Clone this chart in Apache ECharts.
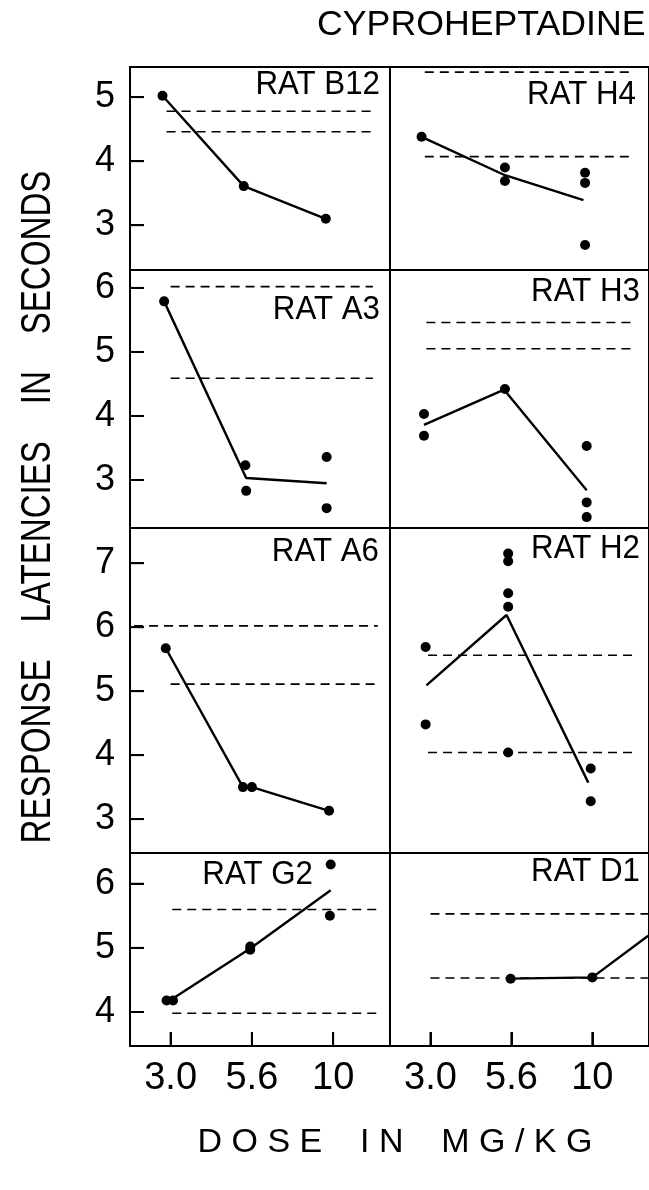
<!DOCTYPE html>
<html>
<head>
<meta charset="utf-8">
<script src="https://cdn.jsdelivr.net/npm/echarts@6/dist/echarts.min.js"></script>
<style>
  html, body { margin: 0; padding: 0; background: #fff; }
  #chart { width: 649px; height: 1190px; }
</style>
</head>
<body>
<div id="chart"></div>
<script>
// dose levels in mg/kg, drawn at equal spacing (position 0, 1, 2)
const doseLabels = ['3.0', '5.6', '10'];
const doseTicks = [0, 1, 2];

// y tick values for each row of panels
const yTicksRow = [[3, 4, 5], [3, 4, 5, 6], [3, 4, 5, 6, 7], [4, 5, 6]];
const yRangeRow = [[2.30, 5.47], [2.25, 6.28], [2.47, 7.55], [3.47, 6.48]];

const ratNames = ['RAT B12', 'RAT H4', 'RAT A3', 'RAT H3', 'RAT A6', 'RAT H2', 'RAT G2', 'RAT D1'];

// single sessions: [dose position, latency (s)]
const ptsB12 = [[-0.10, 5.02], [0.90, 3.61], [1.91, 3.10]];
const ptsH4 = [[-0.11, 4.38], [0.92, 3.90], [0.92, 3.69], [1.91, 3.82], [1.91, 3.66], [1.91, 2.69]];
const ptsA3 = [[-0.08, 5.79], [0.92, 3.23], [0.93, 2.83], [1.92, 3.36], [1.92, 2.56]];
const ptsH3 = [[-0.08, 4.03], [-0.08, 3.69], [0.92, 4.42], [1.93, 3.53], [1.93, 2.65], [1.93, 2.42]];
const ptsA6 = [[-0.06, 5.67], [0.89, 3.50], [1.00, 3.50], [1.95, 3.13]];
const ptsH2 = [[-0.06, 5.69], [-0.06, 4.48], [0.96, 7.15], [0.96, 7.03], [0.96, 6.53], [0.96, 6.32],
               [0.96, 4.04], [1.98, 3.79], [1.98, 3.28]];
const ptsG2 = [[-0.05, 4.18], [0.03, 4.18], [0.98, 5.02], [0.98, 4.97], [1.97, 6.30], [1.96, 5.50]];
const ptsD1 = [[0.99, 4.52], [2.00, 4.54]];

// mean latency line per dose
const meanB12 = [[-0.10, 5.02], [0.90, 3.61], [1.91, 3.10]];
const meanH4 = [[-0.11, 4.38], [0.92, 3.78], [1.89, 3.39]];
const meanA3 = [[-0.08, 5.79], [0.93, 3.03], [1.92, 2.95]];
const meanH3 = [[-0.08, 3.86], [0.91, 4.41], [1.93, 2.84]];
const meanA6 = [[-0.06, 5.67], [0.89, 3.50], [1.00, 3.50], [1.95, 3.13]];
const meanH2 = [[-0.05, 5.09], [0.94, 6.19], [1.95, 3.57]];
const meanG2 = [[-0.01, 4.18], [0.98, 4.99], [1.97, 5.90]];
const meanD1 = [[0.99, 4.52], [2.00, 4.54], [2.69, 5.19]]; // line leaves the page at the right edge

// control range (dashed lines): [value, from, to]
const dashB12 = [[4.78, -0.05, 2.49], [4.46, -0.05, 2.49]];
const dashH4 = [[5.39, -0.07, 2.48], [4.07, -0.07, 2.48]];
const dashA3 = [[6.02, 0.00, 2.49], [4.59, 0.00, 2.49]];
const dashH3 = [[5.46, -0.05, 2.52], [5.05, -0.05, 2.52]];
const dashA6 = [[6.02, -0.45, 2.55], [5.11, 0.00, 2.55]];
const dashH2 = [[5.56, -0.03, 2.55], [4.04, -0.03, 2.55]];
const dashG2 = [[5.60, 0.02, 2.60], [3.98, 0.02, 2.60]];
const dashD1 = [[5.53, 0.00, 2.69], [4.53, 0.00, 2.69]];

const panelPts = [ptsB12, ptsH4, ptsA3, ptsH3, ptsA6, ptsH2, ptsG2, ptsD1];
const panelMean = [meanB12, meanH4, meanA3, meanH3, meanA6, meanH2, meanG2, meanD1];
const panelDash = [dashB12, dashH4, dashA3, dashH3, dashA6, dashH2, dashG2, dashD1];

// layout
const FONT = 'Liberation Sans, Arial, sans-serif';
const X_MIN = -0.5, X_MAX = 2.7;
const TICK = 14;
const colLeft = [130, 390];
const colW = 260;
const rowTop = [67, 270, 528, 853];
const rowH = [203, 258, 325, 193];
// panel name anchors: right edge x, vertical centre y
const nameAnchor = [[380, 85], [636, 95], [380, 310], [640, 292], [379, 552], [640, 549], [313, 875], [640, 872]];

const chart = echarts.init(document.getElementById('chart'));

const grids = [], xAxes = [], yAxes = [], series = [], graphics = [];
const black = { color: '#000', width: 2 };

// inward tick marks, placed through the axes' own scales
const tickItem = (dx, dy) => (params, api) => {
  const p = api.coord([api.value(0), api.value(1)]);
  return {
    type: 'line',
    shape: { x1: p[0], y1: p[1], x2: p[0] + dx, y2: p[1] + dy },
    style: { stroke: '#000', lineWidth: 2 }
  };
};

ratNames.forEach((name, i) => {
  const row = Math.floor(i / 2), col = i % 2;
  const bottom = row === 3;
  grids.push({
    left: colLeft[col], top: rowTop[row], width: colW, height: rowH[row],
    show: true, borderColor: '#000', borderWidth: 2
  });
  xAxes.push({
    gridIndex: i, type: 'value', min: X_MIN, max: X_MAX,
    axisLine: { show: true, onZero: false, lineStyle: black }, splitLine: { show: false },
    axisTick: { show: bottom, inside: true, length: TICK, customValues: doseTicks, lineStyle: black },
    axisLabel: {
      show: bottom, customValues: doseTicks, formatter: v => doseLabels[Math.round(v)],
      color: '#000', fontSize: 38, fontFamily: FONT, margin: 14
    }
  });
  yAxes.push({
    gridIndex: i, type: 'value', min: yRangeRow[row][0], max: yRangeRow[row][1],
    axisLine: { show: true, onZero: false, lineStyle: black }, splitLine: { show: false },
    axisTick: { show: col === 0, inside: true, length: TICK, customValues: yTicksRow[row], lineStyle: black },
    axisLabel: {
      show: col === 0, customValues: yTicksRow[row], color: '#000',
      fontSize: 36, fontFamily: FONT, margin: 15
    }
  });

  panelDash[i].forEach(d => {
    series.push({
      type: 'line', xAxisIndex: i, yAxisIndex: i, symbol: 'none',
      data: [[d[1], d[0]], [d[2], d[0]]],
      lineStyle: { color: '#000', width: 1.6, type: [9, 6] }
    });
  });
  series.push({
    type: 'line', xAxisIndex: i, yAxisIndex: i, symbol: 'none',
    data: panelMean[i], lineStyle: { color: '#000', width: 2.4 }
  });
  series.push({
    type: 'scatter', xAxisIndex: i, yAxisIndex: i,
    data: panelPts[i], symbolSize: 10, itemStyle: { color: '#000', opacity: 1 }
  });

  if (col === 0) {
    series.push({
      type: 'custom', xAxisIndex: i, yAxisIndex: i, z: 5, silent: true,
      data: yTicksRow[row].map(v => [X_MIN, v]), renderItem: tickItem(TICK, 0)
    });
  }
  if (bottom) {
    series.push({
      type: 'custom', xAxisIndex: i, yAxisIndex: i, z: 5, silent: true,
      data: doseTicks.map(d => [d, yRangeRow[row][0]]), renderItem: tickItem(0, -TICK)
    });
  }

  graphics.push({
    type: 'text', x: nameAnchor[i][0], y: nameAnchor[i][1], scaleX: 0.92,
    style: { text: name, fill: '#000', font: '34px ' + FONT, align: 'right', verticalAlign: 'middle' }
  });
});

graphics.push({
  type: 'text', x: 317, y: 25, scaleX: 1.02,
  style: { text: 'CYPROHEPTADINE', fill: '#000', font: '35px ' + FONT, align: 'left', verticalAlign: 'middle' }
});
graphics.push({
  type: 'text', x: 38, y: 507, rotation: Math.PI / 2, scaleX: 0.77,
  style: { text: 'RESPONSE    LATENCIES    IN    SECONDS', fill: '#000', font: '43px ' + FONT, align: 'center', verticalAlign: 'middle' }
});
graphics.push({
  type: 'text', x: 395, y: 1143,
  style: { text: 'D O S E    I N    M G / K G', fill: '#000', font: '34px ' + FONT, align: 'center', verticalAlign: 'middle' }
});

chart.setOption({
  animation: false,
  grid: grids,
  xAxis: xAxes,
  yAxis: yAxes,
  series: series,
  graphic: graphics
});
</script>
</body>
</html>
